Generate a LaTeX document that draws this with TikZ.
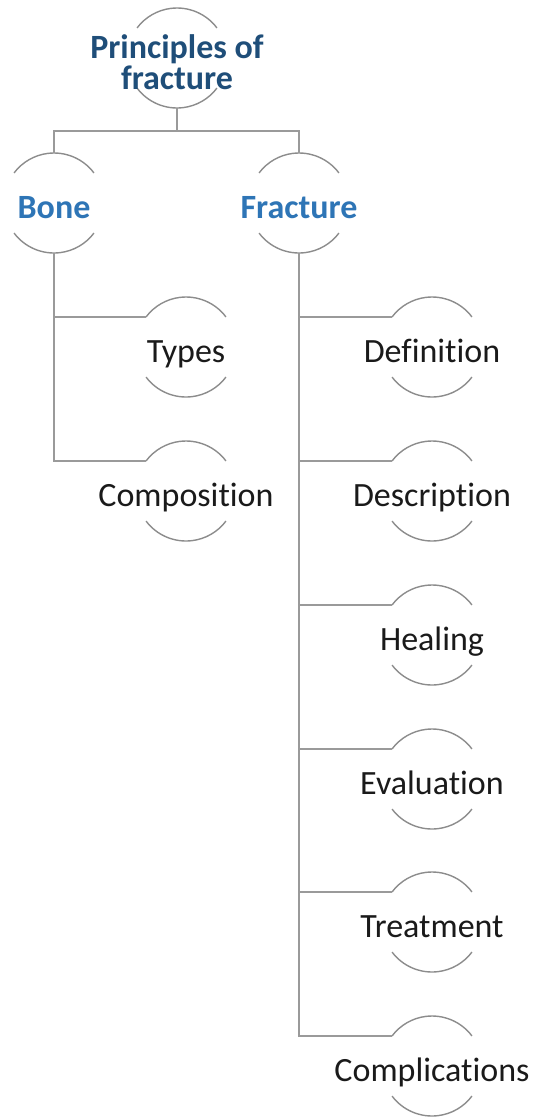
\documentclass[tikz,border=0pt]{standalone}
\usepackage{fontspec}
\setmainfont{Carlito}[Ligatures={NoCommon,NoRequired,NoContextual,NoRare},Contextuals=NoAlternate]
\definecolor{linegray}{HTML}{9A9A9A}
\definecolor{arcgray}{HTML}{8C8C8C}
\definecolor{topblue}{HTML}{1F4E79}
\definecolor{midblue}{HTML}{2E75B6}
\definecolor{leaftext}{HTML}{1A1A1A}
\newcommand{\tI}{t\kern0pt i}
\tikzset{
  ring/.style={circle, minimum size=100pt, inner sep=0pt, outer sep=0pt, draw=none},
  arcline/.style={draw=arcgray, line width=1.4pt},
  conn/.style={draw=linegray, line width=1.8pt},
  lbl/.style={font=\fontsize{34}{33}\selectfont, anchor=base, inner sep=0pt},
  toplbl/.style={lbl, font=\fontsize{34}{31}\selectfont\bfseries, text=topblue, align=center},
  midlbl/.style={lbl, font=\fontsize{34}{33}\selectfont\bfseries, text=midblue},
  leaflbl/.style={lbl, text=leaftext},
}
\newcommand{\ringarcs}[1]{%
  \draw[arcline] (#1.37) arc[start angle=37, end angle=143, radius=50pt];
  \draw[arcline] (#1.217) arc[start angle=217, end angle=323, radius=50pt];
}
\begin{document}
\begin{tikzpicture}[x=1pt, y=1pt]
\useasboundingbox (0,0) rectangle (535,-1120);
% circles
\node[ring] (top) at (177,-58) {};
\node[ring] (bone) at (54,-203) {};
\node[ring] (frac) at (299,-203) {};
\node[ring] (types) at (186,-347) {};
\node[ring] (comp) at (186,-491) {};
\node[ring] (defn) at (432,-347) {};
\node[ring] (desc) at (432,-491) {};
\node[ring] (heal) at (432,-635) {};
\node[ring] (eval) at (432,-779) {};
\node[ring] (treat) at (432,-922) {};
\node[ring] (compl) at (432,-1066) {};
\foreach \n in {top,bone,frac,types,comp,defn,desc,heal,eval,treat,compl}{\ringarcs{\n}}
% labels
\node[toplbl, anchor=center] (topl) at (177,-62) {Principles of\\fracture};
\node[midlbl] (bonel) at ([yshift=-15pt]bone.center) {Bone};
\node[midlbl] (fracl) at ([yshift=-15pt]frac.center) {Fracture};
\node[leaflbl] (typesl) at ([yshift=-15pt]types.center) {Types};
\node[leaflbl] (compl1) at ([yshift=-15pt]comp.center) {Composi\tI on};
\node[leaflbl] (defnl) at ([yshift=-15pt]defn.center) {Defini\tI on};
\node[leaflbl] (descl) at ([yshift=-15pt]desc.center) {Descrip\tI on};
\node[leaflbl] (heall) at ([yshift=-15pt]heal.center) {Healing};
\node[leaflbl] (evall) at ([yshift=-15pt]eval.center) {Evalua\tI on};
\node[leaflbl] (treatl) at ([yshift=-15pt]treat.center) {Treatment};
\node[leaflbl] (compll) at ([yshift=-15pt]compl.center) {Complica\tI ons};
% connectors
\coordinate (hub) at ([yshift=-23pt]top.south);
\draw[conn] (top.south) -- (hub);
\draw[conn] (hub) -| (bone.north);
\draw[conn] (hub) -| (frac.north);
\foreach \c in {types,comp}{\draw[conn] (bone.south) |- (\c.143);}
\foreach \c in {defn,desc,heal,eval,treat,compl}{\draw[conn] (frac.south) |- (\c.143);}
\end{tikzpicture}
\end{document}
